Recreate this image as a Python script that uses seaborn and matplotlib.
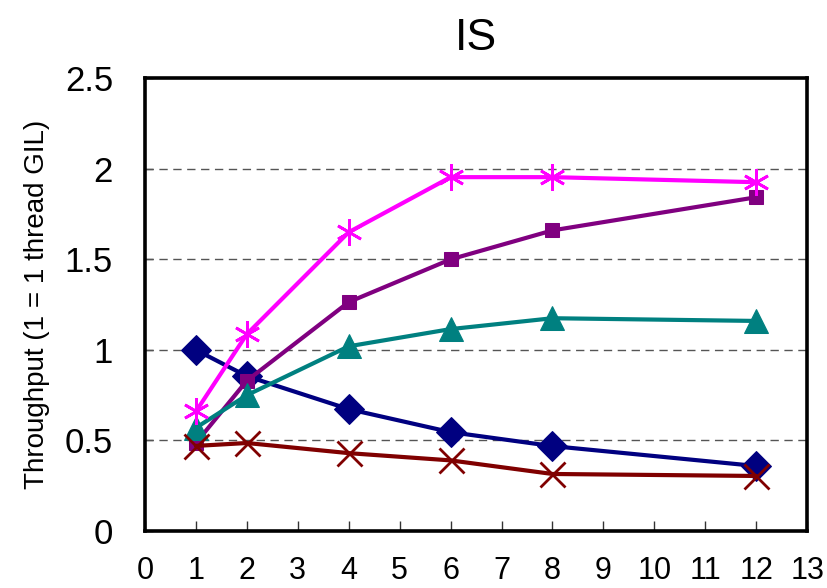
import matplotlib
matplotlib.use("Agg")
import matplotlib.pyplot as plt
import seaborn as sns
import pandas as pd

threads = [1, 2, 4, 6, 8, 12]
navy_diamond = [1.00, 0.855, 0.673, 0.546, 0.469, 0.359]
purple_square = [0.486, 0.83, 1.264, 1.50, 1.66, 1.843]
teal_triangle = [0.57, 0.75, 1.02, 1.115, 1.175, 1.16]
magenta_star = [0.66, 1.087, 1.65, 1.954, 1.954, 1.926]
red_cross = [0.47, 0.486, 0.43, 0.39, 0.315, 0.304]

x_ticks = list(range(0, 14))
y_ticks = [0, 0.5, 1, 1.5, 2, 2.5]
y_tick_labels = ["0", "0.5", "1", "1.5", "2", "2.5"]

sns.set_theme(style="white")
plt.rcParams["font.family"] = ["Liberation Sans", "DejaVu Sans"]

fig = plt.figure(figsize=(8.27, 5.88), dpi=100)
ax = fig.add_axes([0.1753, 0.0969, 0.8007, 0.770])

series = [
    ("navy", navy_diamond, "#000080", dict(marker="D", markersize=15)),
    ("purple", purple_square, "#800080", dict(marker="s", markersize=10)),
    ("teal", teal_triangle, "#008080", dict(marker="^", markersize=17)),
    ("magenta", magenta_star, "#FF00FF",
     dict(marker=(6, 2, 0), markersize=19, markeredgewidth=2)),
    ("red", red_cross, "#800000",
     dict(marker="x", markersize=18, markeredgewidth=2)),
]

for name, vals, color, mk in series:
    df = pd.DataFrame({"threads": threads, "throughput": vals})
    style = dict(mk)
    style.setdefault("markeredgecolor", color)
    sns.lineplot(data=df, x="threads", y="throughput", ax=ax, color=color,
                 linewidth=3.0, markerfacecolor=color, zorder=3, **style)

for yv in [0.5, 1.0, 1.5, 2.0]:
    ax.axhline(yv, color="#555555", linewidth=1.0, linestyle=(0, (6, 4)), zorder=1)

ax.set_xlim(0, 13)
ax.set_ylim(0, 2.5)
ax.set_xticks(x_ticks)
ax.set_yticks(y_ticks)
ax.set_yticklabels(y_tick_labels)
ax.tick_params(axis="x", direction="in", length=7, width=1, color="#333333",
               labelsize=22, pad=18, labelcolor="black")
ax.tick_params(axis="y", direction="in", length=6, width=1, color="#333333",
               labelsize=25, pad=23, labelcolor="black")
ax.xaxis.set_ticks_position("bottom")
ax.yaxis.set_ticks_position("left")
for sp in ax.spines.values():
    sp.set_visible(True)
    sp.set_color("black")
    sp.set_linewidth(2.6)

ax.set_xlabel("")
ax.set_ylabel("Throughput (1 = 1 thread GIL)", fontsize=20, labelpad=11,
              color="black")
ax.set_title("IS", fontsize=32, pad=20, color="black")

fig.savefig("out.png", dpi=100)
